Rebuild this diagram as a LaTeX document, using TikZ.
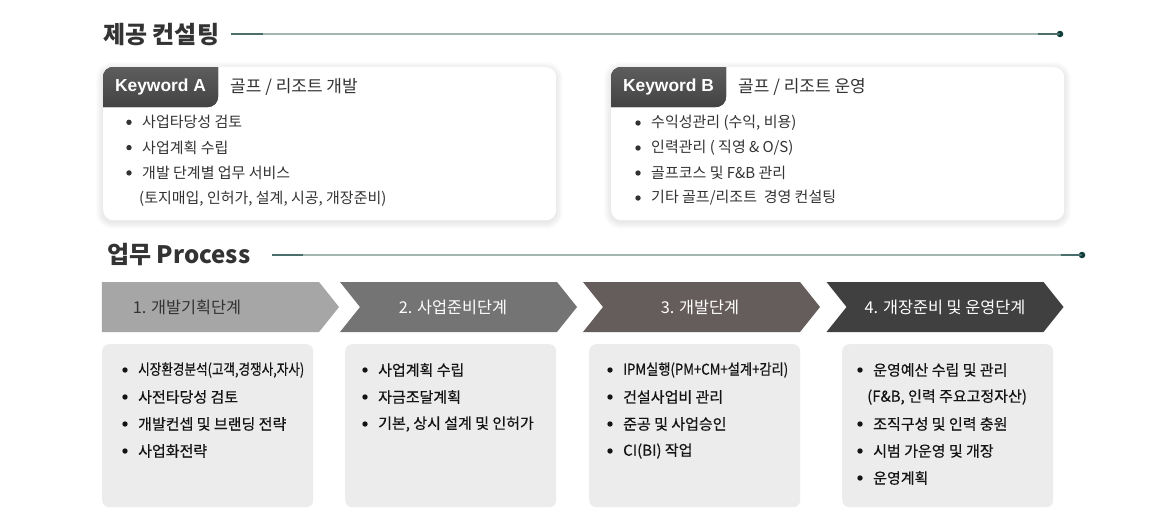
\documentclass[tikz,border=0pt]{standalone}
\usepackage{graphicx}
\usepackage{fontspec}
\setmainfont{Noto Sans CJK KR}
\newfontfamily\kwfont{Liberation Sans}
\newfontfamily\boxfont[FakeBold=0.5]{Noto Sans CJK KR}
\usetikzlibrary{shapes.symbols, calc}
\definecolor{gcText}{HTML}{333333}
\definecolor{gcDark}{HTML}{141414}
\definecolor{gcLine}{HTML}{A3B6B2}
\definecolor{gcTeal}{HTML}{0E3E39}
\definecolor{gcTab}{HTML}{4A4A4A}
\definecolor{gcBox}{HTML}{ECECEC}
\definecolor{gcStepA}{HTML}{A6A6A6}
\definecolor{gcStepB}{HTML}{747474}
\definecolor{gcStepC}{HTML}{655D5B}
\definecolor{gcStepD}{HTML}{404040}
\newcommand{\squeeze}[2]{\resizebox{#1}{\height}{#2}}
\tikzset{
  heading/.style={font=\fontsize{24}{28}\selectfont\bfseries, text=gcText, anchor=west, inner sep=0pt},
  rule/.style={gcLine, line width=1.2pt},
  ruledark/.style={gcTeal!75, line width=1.4pt},
  enddot/.style={circle, fill=gcTeal, inner sep=0pt, minimum size=6.5pt},
  card/.style={fill=white, rounded corners=10pt, minimum width=453pt, minimum height=153pt, anchor=north west},
  kwtab/.style={top color=gcTab!85!white, bottom color=gcTab!90!black, rounded corners=10pt},
  kwtext/.style={font=\kwfont\fontsize{17.4}{20}\selectfont\bfseries, text=white, inner sep=0pt},
  cardtitle/.style={font=\fontsize{17}{20}\selectfont, text=gcText, anchor=west, inner sep=0pt},
  item/.style={font=\fontsize{15}{18}\selectfont, text=gcText, anchor=west, inner sep=0pt},
  boxitem/.style={item, font=\boxfont\fontsize{15}{18}\selectfont, text=gcDark},
  stepbox/.style={shape=signal, signal to=east, signal pointer angle=102.7,
    minimum width=237pt, minimum height=50pt, inner sep=0pt},
  steptext/.style={font=\fontsize{16.3}{19}\selectfont, inner sep=0pt},
  infobox/.style={fill=gcBox, rounded corners=7pt, minimum width=211pt, minimum height=163pt, anchor=north west}
}
\begin{document}
\begin{tikzpicture}[x=1pt, y=-1pt]
  \useasboundingbox[fill=white] (0,0) rectangle (1166,525);

  % section headings
  \node[heading] (h1) at (103,35) {제공 컨설팅};
  \node[enddot] (d1) at (1060,34) {};
  \draw[rule] (h1.east) ++(12,-1) -- (d1.center);
  \draw[ruledark] (h1.east) ++(12,-1) -- ++(32,0);
  \draw[ruledark] (d1.center) -- ++(-22,0);

  \node[heading] (h2) at (107,255) {업무 Process};
  \node[enddot] (d2) at (1082,255) {};
  \draw[rule] (h2.east) ++(21,0) -- (d2.center);
  \draw[ruledark] (h2.east) ++(21,0) -- ++(31,0);
  \draw[ruledark] (d2.center) -- ++(-21,0);

  % keyword cards
  \foreach \cx/\nm/\ttl in {103/A/{골프 / 리조트 개발}, 611/B/{골프 / 리조트 운영}}{
    \foreach \s in {1,...,7}
      \fill[black, opacity=0.012, rounded corners=10+\s]
        (\cx-\s, 67-\s+2) rectangle (\cx+453+\s, 220+\s+2);
    \node[card] (card\nm) at (\cx,67) {};
    \begin{scope}
      \clip[rounded corners=10pt] (card\nm.north west) rectangle (card\nm.south east);
      \fill[kwtab] (\cx-12, 55) rectangle (\cx+115, 107);
    \end{scope}
    \node[kwtext] (kw\nm) at (\cx+57.5, 87) {Keyword \nm};
    \node[cardtitle] (title\nm) at (\cx+127, 87) {\ttl};
  }

  \foreach \t [count=\k] in {사업타당성 검토, 사업계획 수립, 개발 단계별 업무 서비스}{
    \node[item] (a\k) at (142, 97+25.3*\k) {\t};
    \fill[gcText] ($(a\k.west)+(-13,0)$) circle (2.7);
  }
  \node[item] (a4) at (139,198.5) {(토지매입, 인허가, 설계, 시공, 개장준비)};

  \foreach \t [count=\k] in {{수익성관리 (수익, 비용)}, {인력관리 ( 직영 \& O/S)}, 골프코스 및 F\&B 관리, 기타 골프/리조트~~경영 컨설팅}{
    \node[item] (b\k) at (651, 98+25*\k) {\t};
    \fill[gcText] ($(b\k.west)+(-13,0)$) circle (2.7);
  }

  % process steps
  \foreach \i/\cx/\sf/\col/\tc/\lx/\txt in {
    1/210.5/nowhere/gcStepA/gcText/187/{1. 개발기획단계},
    2/458.5/west/gcStepB/white/453/{2. 사업준비단계},
    3/701.5/west/gcStepC/white/700/{3. 개발단계},
    4/945/west/gcStepD/white/945/{4. 개장준비 및 운영단계}}{
    \node[stepbox, signal from=\sf, fill=\col] (step\i) at (\cx,307) {};
    \node[steptext, text=\tc] (lbl\i) at (\lx,307) {\txt};
  }

  \foreach \i/\bx in {1/102, 2/345, 3/589, 4/842}
    \node[infobox] (box\i) at (\bx,344) {};

  \foreach \t [count=\k] in {{\squeeze{166pt}{시장환경분석(고객,경쟁사,자사)}}, 사전타당성 검토, 개발컨셉 및 브랜딩 전략, 사업화전략}{
    \node[boxitem] (p\k) at (138, 343+27*\k) {\t};
    \fill[gcDark] ($(p\k.west)+(-13,0)$) circle (2.7);
  }
  \foreach \t [count=\k] in {사업계획 수립, 자금조달계획, {기본, 상시 설계 및 인허가}}{
    \node[boxitem] (q\k) at (378, 343+27*\k) {\t};
    \fill[gcDark] ($(q\k.west)+(-13,0)$) circle (2.7);
  }
  \foreach \t [count=\k] in {{\squeeze{165pt}{IPM실행(PM+CM+설계+감리)}}, 건설사업비 관리, 준공 및 사업승인, CI(BI) 작업}{
    \node[boxitem] (r\k) at (623, 343+27*\k) {\t};
    \fill[gcDark] ($(r\k.west)+(-13,0)$) circle (2.7);
  }
  \foreach \t/\y [count=\k] in {운영예산 수립 및 관리/370, 조직구성 및 인력 충원/424, 시범 가운영 및 개장/451, 운영계획/478}{
    \node[boxitem] (s\k) at (873, \y) {\t};
    \fill[gcDark] ($(s\k.west)+(-13,0)$) circle (2.7);
  }
  \node[boxitem] (s5) at (867,397) {(F\&B, 인력 주요고정자산)};
\end{tikzpicture}
\end{document}
